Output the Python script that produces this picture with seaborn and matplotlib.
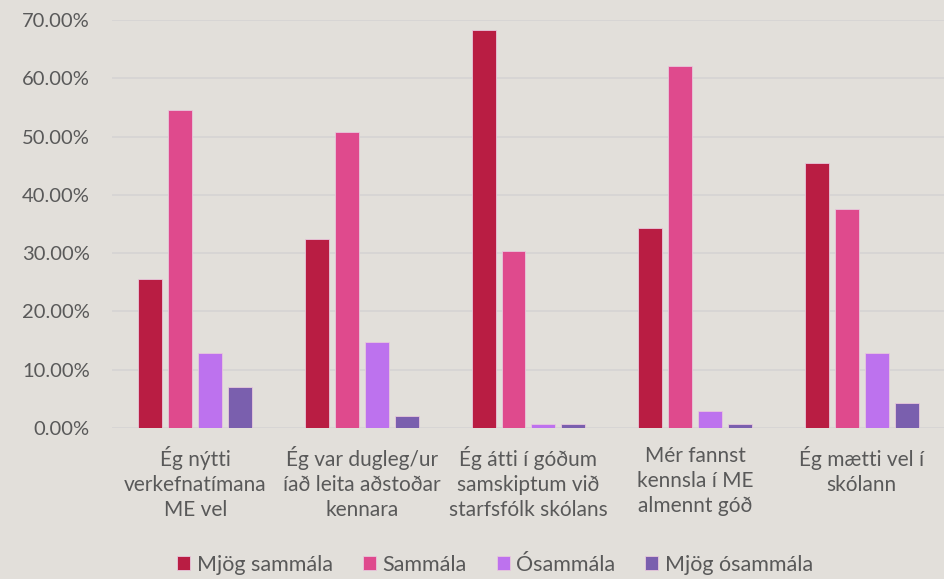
import matplotlib
matplotlib.use("Agg")
import matplotlib.pyplot as plt
import seaborn as sns
import pandas as pd
from matplotlib.ticker import PercentFormatter

# === Data ===
categories = [
    "Ég nýtti\nverkefnatímana\nME vel",
    "Ég var dugleg/ur\níað leita aðstoðar\nkennara",
    "Ég átti í góðum\nsamskiptum við\nstarfsfólk skólans",
    "Mér fannst\nkennsla í ME\nalmennt góð",
    "Ég mætti vel í\nskólann",
]
series = ["Mjög sammála", "Sammála", "Ósammála", "Mjög ósammála"]
mjog_sammala = [25.6, 32.4, 68.3, 34.3, 45.4]
sammala = [54.5, 50.7, 30.3, 62.1, 37.6]
osammala = [12.8, 14.8, 0.7, 2.9, 12.8]
mjog_osammala = [7.0, 2.1, 0.7, 0.7, 4.3]
colors = ["#B91D43", "#DF4A8D", "#BD72EE", "#7A5FAE"]

rows = []
for s, vals in zip(series, [mjog_sammala, sammala, osammala, mjog_osammala]):
    for c, v in zip(categories, vals):
        rows.append({"Flokkur": c, "Svar": s, "Hlutfall": v})
df = pd.DataFrame(rows)

# === Plot ===
sns.set_style("white")
plt.rcParams["font.family"] = ["Lato", "DejaVu Sans"]
bg = "#E2DFDA"
text_color = "#595959"

fig = plt.figure(figsize=(9.45, 5.79), dpi=100, facecolor=bg)
ax = fig.add_axes([0.1185, 0.2608, 0.8815, 0.7047])
ax.set_facecolor(bg)

sns.barplot(
    data=df, x="Flokkur", y="Hlutfall", hue="Svar",
    palette=colors, saturation=1, width=0.72, gap=0.2, ax=ax,
    edgecolor="#e8c8dc", linewidth=0.6, legend=True,
)

ax.set_ylim(0, 70)
ax.set_xlim(-0.5, 4.5)
ax.set_yticks(range(0, 71, 10))
ax.yaxis.set_major_formatter(PercentFormatter(decimals=2))
ax.yaxis.grid(True, color="#D6D4D4", linewidth=1.3)
ax.set_axisbelow(True)
for sp in ax.spines.values():
    sp.set_visible(False)
ax.set_xlabel("")
ax.set_ylabel("")
ax.tick_params(axis="both", length=0, colors=text_color)
ax.tick_params(axis="y", pad=16, labelsize=14.5)
ax.tick_params(axis="x", pad=13, labelsize=15)
for lbl in ax.get_xticklabels():
    lbl.set_linespacing(1.3)

ax.legend(
    loc="center", bbox_to_anchor=(0.46, -0.335), ncol=4, frameon=False,
    fontsize=15.5, labelcolor=text_color, handlelength=0.6, handleheight=0.6,
    handletextpad=0.3, columnspacing=1.4,
)

fig.savefig("out.png", dpi=100, facecolor=bg)
